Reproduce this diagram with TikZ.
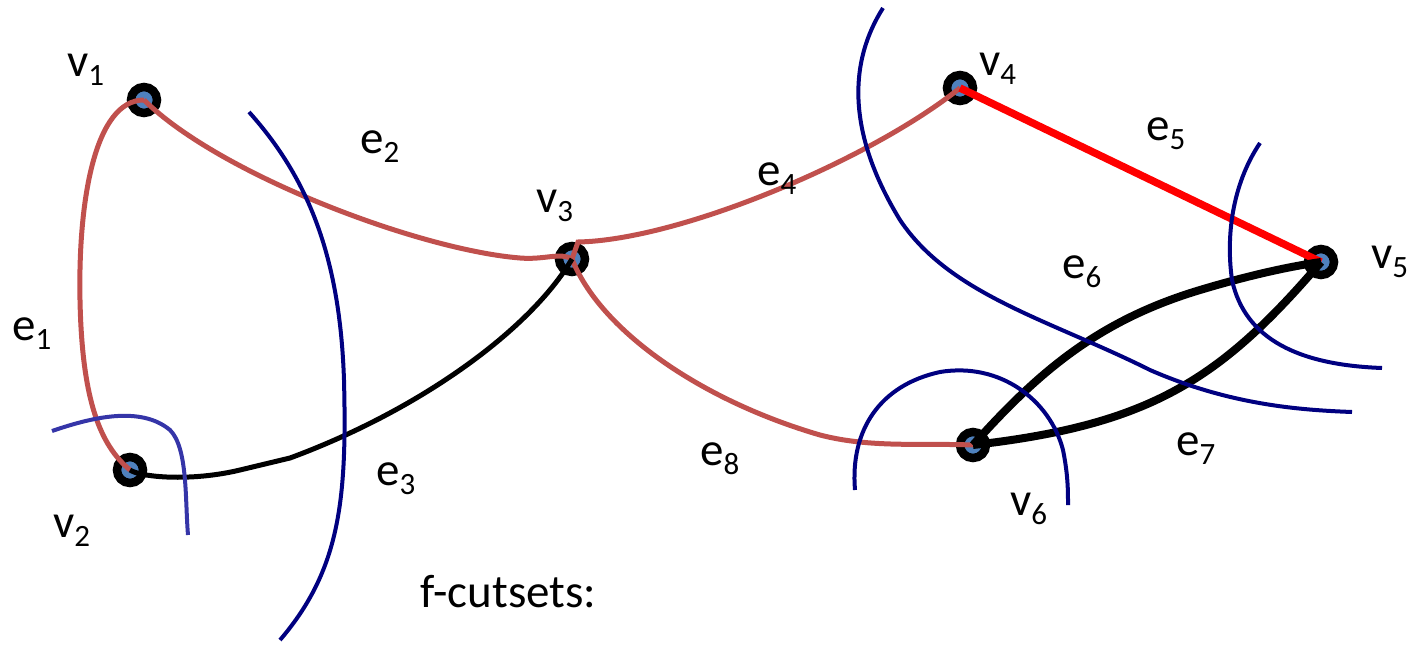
\documentclass[tikz,border=0pt]{standalone}
\usepackage{fontspec}
\setmainfont{Carlito}
\definecolor{edgered}{HTML}{C0504D}
\definecolor{vblue}{HTML}{4F81BD}
\definecolor{cutnavy}{HTML}{000080}
\definecolor{cutblue}{HTML}{3535A8}
\newcommand\sbs[1]{\raisebox{-9pt}{\fontsize{31}{31}\selectfont #1}}
\tikzset{
  vtx/.style={circle,draw=black,line width=8.5pt,fill=vblue,minimum size=26pt,inner sep=0pt},
  lbl/.style={anchor=base west,inner sep=0pt,font=\fontsize{47}{47}\selectfont},
  redge/.style={draw=edgered,line width=5pt},
  bedge/.style={draw=black,line width=5pt},
  thickedge/.style={draw=black,line width=8pt},
  rededge/.style={draw=red,line width=7.5pt},
  cut/.style={draw=cutnavy,line width=4pt},
}
\begin{document}
\begin{tikzpicture}[x=1pt,y=-1pt]
\useasboundingbox (0,0) rectangle (1412,645);
% vertices
\node[vtx] (v1) at (144,100) {};
\node[vtx] (v2) at (130,470) {};
\node[vtx] (v3) at (572,259) {};
\node[vtx] (v4) at (960,88) {};
\node[vtx] (v5) at (1321,262) {};
\node[vtx] (v6) at (973,445) {};
% edges
\draw[redge] (v1.center) .. controls (95,100) and (78,200) .. (80,300) .. controls (82,400) and (100,445) .. (v2.center);
\draw[redge] (v1.center) .. controls (220,175) and (420,250) .. (520,258) .. controls (545,260) and (560,252) .. (v3.center);
\coordinate (c3a) at (578,242);
\draw[redge] (v3.center) -- (c3a) .. controls (680,240) and (870,160) .. (v4.center);
\draw[redge] (v3.center) .. controls (600,330) and (700,400) .. (820,435) .. controls (870,448) and (920,443) .. (v6.center);
\draw[bedge] (v2.center) .. controls (140,477) and (190,482) .. (240,470) -- (290,458) .. controls (420,410) and (530,330) .. (v3.center);
\draw[rededge] (v4.center) -- (v5.center);
\draw[thickedge] (v6.center) .. controls (1040,370) and (1100,320) .. (1200,290) .. controls (1260,272) and (1300,265) .. (v5.center);
\draw[thickedge] (v6.center) .. controls (1150,425) and (1220,380) .. (v5.center);
% cutsets
\draw[cut] (249,112) .. controls (310,180) and (340,260) .. (344,380) .. controls (347,500) and (340,570) .. (280,640);
\draw[cut,draw=cutblue] (52,431) .. controls (90,418) and (140,405) .. (170,430) .. controls (188,448) and (185,500) .. (188,535);
\draw[cut] (883,8) .. controls (850,60) and (845,130) .. (900,220) .. controls (950,295) and (1050,320) .. (1150,370) .. controls (1230,405) and (1300,410) .. (1352,412);
\draw[cut] (1260,143) .. controls (1235,180) and (1225,230) .. (1232,280) .. controls (1245,340) and (1300,365) .. (1382,368);
\draw[cut] (855,490) .. controls (850,430) and (880,385) .. (940,372) .. controls (1000,362) and (1050,400) .. (1063,450) .. controls (1068,475) and (1068,490) .. (1068,505);
% labels
\node[lbl] (lv1) at (67,76) {v\sbs{1}};
\node[lbl] (lv2) at (53,537) {v\sbs{2}};
\node[lbl] (lv3) at (536,212) {v\sbs{3}};
\node[lbl] (lv4) at (979,75) {v\sbs{4}};
\node[lbl] (lv5) at (1371,268) {v\sbs{5}};
\node[lbl] (lv6) at (1010,515) {v\sbs{6}};
\node[lbl] (le1) at (12,340) {e\sbs{1}};
\node[lbl] (le2) at (360,153) {e\sbs{2}};
\node[lbl] (le3) at (376,485) {e\sbs{3}};
\node[lbl] (le4) at (757,185) {e\sbs{4}};
\node[lbl] (le5) at (1146,140) {e\sbs{5}};
\node[lbl] (le6) at (1062,278) {e\sbs{6}};
\node[lbl] (le7) at (1176,455) {e\sbs{7}};
\node[lbl] (le8) at (700,465) {e\sbs{8}};
\node[lbl] (ft) at (420,607) {f-cutsets:};
\end{tikzpicture}
\end{document}
